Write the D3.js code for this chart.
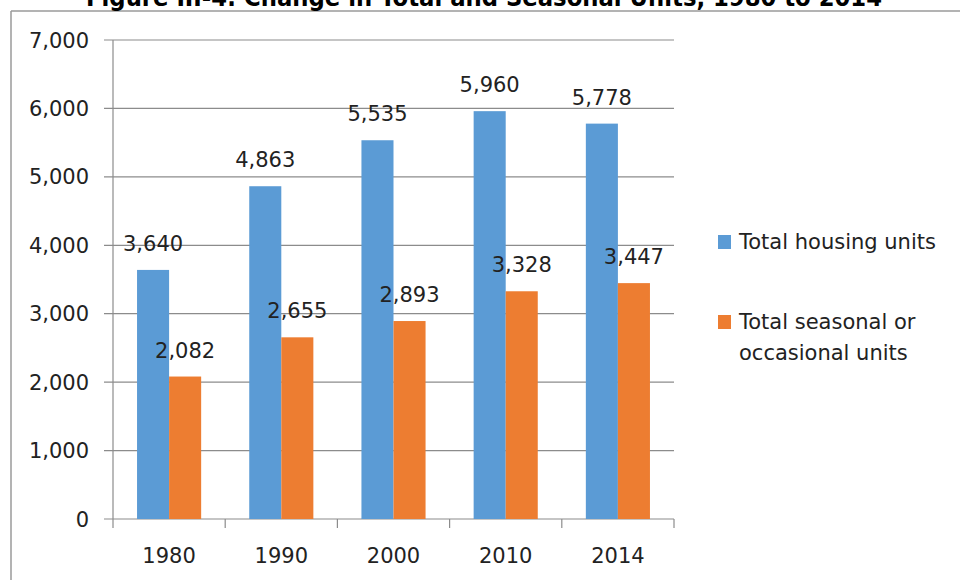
<!DOCTYPE html>
<html>
<head>
<meta charset="utf-8">
<script src="https://cdn.jsdelivr.net/npm/d3@7"></script>
<style>
  body { margin: 0; background: #fff; }
  text { font-family: "DejaVu Sans", sans-serif; fill: #222; }
</style>
</head>
<body>
<div id="chart"></div>
<script>
// data
const years = ["1980", "1990", "2000", "2010", "2014"];
const seriesNames = ["Total housing units", "Total seasonal or occasional units"];
const totalUnits = [3640, 4863, 5535, 5960, 5778];
const seasonalUnits = [2082, 2655, 2893, 3328, 3447];
const yTicks = [0, 1000, 2000, 3000, 4000, 5000, 6000, 7000];
const colors = ["#5b9bd5", "#ed7d31"];

const width = 960, height = 580;
const plot = { left: 113, right: 674, top: 40, bottom: 519 };

const svg = d3
  .select("#chart")
  .append("svg")
  .attr("width", width)
  .attr("height", height);

// outer frame (only top and left edges are in view)
svg.append("line")
  .attr("x1", 11).attr("x2", width).attr("y1", 11).attr("y2", 11)
  .style("stroke", "#9a9a9a").style("stroke-width", 1.5);
svg.append("line")
  .attr("x1", 11).attr("x2", 11).attr("y1", 11).attr("y2", height)
  .style("stroke", "#9a9a9a").style("stroke-width", 1.5);

// title, cut off at the top
svg.append("text")
  .attr("x", 484)
  .attr("y", 6)
  .attr("text-anchor", "middle")
  .attr("textLength", 796)
  .attr("lengthAdjust", "spacingAndGlyphs")
  .style("font-size", "24px")
  .style("font-weight", "bold")
  .style("fill", "#000")
  .text("Figure III-4: Change in Total and Seasonal Units, 1980 to 2014");

const x = d3.scaleBand().domain(years).range([plot.left, plot.right]).padding(0);
const xSub = d3.scaleBand().domain(seriesNames).range([0, x.bandwidth()])
  .paddingInner(0).paddingOuter(0.75);
const y = d3.scaleLinear().domain([0, 7000]).range([plot.bottom, plot.top]);

// gridlines + y tick labels
svg.selectAll(".grid")
  .data(yTicks)
  .join("line")
  .attr("x1", plot.left - 9)
  .attr("x2", plot.right)
  .attr("y1", d => y(d))
  .attr("y2", d => y(d))
  .style("stroke", "#8c8c8c")
  .style("stroke-width", 1.2);

svg.selectAll(".ylab")
  .data(yTicks)
  .join("text")
  .attr("x", 89)
  .attr("y", d => y(d))
  .attr("dy", "0.36em")
  .attr("text-anchor", "end")
  .style("font-size", "21px")
  .text(d => d3.format(",")(d));

// y axis line
svg.append("line")
  .attr("x1", plot.left).attr("x2", plot.left)
  .attr("y1", plot.top).attr("y2", plot.bottom)
  .style("stroke", "#8c8c8c").style("stroke-width", 1.2);

// x axis ticks at category boundaries
const bounds = years.map(d => x(d)).concat([plot.right]);
svg.selectAll(".xtick")
  .data(bounds)
  .join("line")
  .attr("x1", d => d).attr("x2", d => d)
  .attr("y1", plot.bottom).attr("y2", plot.bottom + 9)
  .style("stroke", "#8c8c8c").style("stroke-width", 1.2);

svg.selectAll(".xlab")
  .data(years)
  .join("text")
  .attr("x", d => x(d) + x.bandwidth() / 2)
  .attr("y", 563)
  .attr("text-anchor", "middle")
  .style("font-size", "21px")
  .text(d => d);

// bars
const rows = [];
years.forEach((yr, i) => {
  rows.push({ year: yr, series: seriesNames[0], value: totalUnits[i], color: colors[0] });
  rows.push({ year: yr, series: seriesNames[1], value: seasonalUnits[i], color: colors[1] });
});

svg.selectAll(".bar")
  .data(rows)
  .join("rect")
  .attr("x", d => x(d.year) + xSub(d.series))
  .attr("y", d => y(d.value))
  .attr("width", xSub.bandwidth())
  .attr("height", d => y(0) - y(d.value))
  .style("fill", d => d.color);

svg.selectAll(".vlab")
  .data(rows)
  .join("text")
  .attr("x", d => x(d.year) + xSub(d.series) + xSub.bandwidth() / 2)
  .attr("y", d => y(d.value) - 19)
  .attr("text-anchor", "middle")
  .style("font-size", "21px")
  .text(d => d3.format(",")(d.value));

// legend
const legend = [
  { color: colors[0], lines: ["Total housing units"], y: 249 },
  { color: colors[1], lines: ["Total seasonal or", "occasional units"], y: 329 }
];
legend.forEach(item => {
  svg.append("rect")
    .attr("x", 718).attr("y", item.y - 14)
    .attr("width", 13).attr("height", 14)
    .style("fill", item.color);
  item.lines.forEach((ln, j) => {
    svg.append("text")
      .attr("x", 739)
      .attr("y", item.y + j * 31)
      .style("font-size", "21px")
      .text(ln);
  });
});
</script>
</body>
</html>
